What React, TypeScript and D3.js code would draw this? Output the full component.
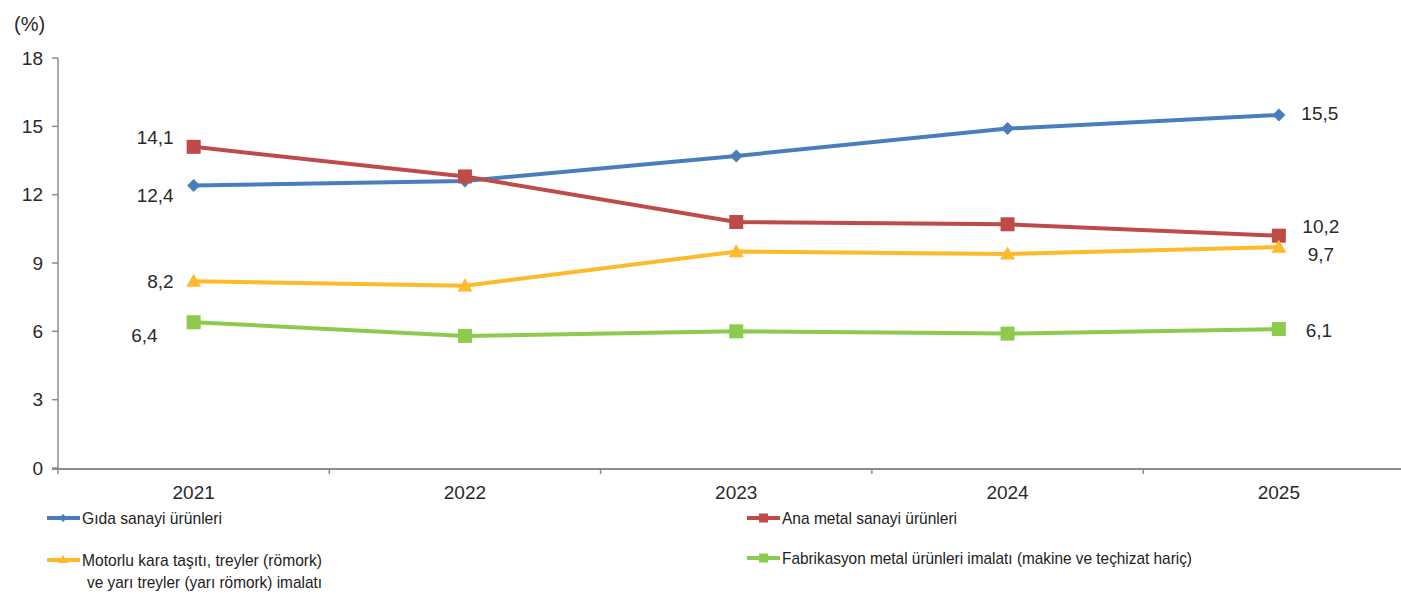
import React from "react";
import * as d3 from "d3";

const years = ["2021", "2022", "2023", "2024", "2025"];
const gida = [12.4, 12.6, 13.7, 14.9, 15.5];
const anaMetal = [14.1, 12.8, 10.8, 10.7, 10.2];
const motorlu = [8.2, 8.0, 9.5, 9.4, 9.7];
const fabrikasyon = [6.4, 5.8, 6.0, 5.9, 6.1];
const yTicks = [0, 3, 6, 9, 12, 15, 18];

const seriesNames = [
  "Gıda sanayi ürünleri",
  "Ana metal sanayi ürünleri",
  "Motorlu kara taşıtı, treyler (römork)|ve yarı treyler (yarı römork) imalatı",
  "Fabrikasyon metal ürünleri imalatı (makine ve teçhizat hariç)",
];

const W = 1401;
const H = 595;
const FONT = "'Liberation Sans', Arial, sans-serif";

type Marker = "diamond" | "square" | "triangle";
const seriesStyle: { color: string; marker: Marker }[] = [
  { color: "#4A7EBB", marker: "diamond" },
  { color: "#BE4B48", marker: "square" },
  { color: "#FDBA2C", marker: "triangle" },
  { color: "#8CCB4C", marker: "square" },
];
const seriesData = [gida, anaMetal, motorlu, fabrikasyon];

// label placement offsets (first and last point)
const firstLabelOffset = [
  { dx: -20, dy: 10 },
  { dx: -20, dy: -9 },
  { dx: -20, dy: 0 },
  { dx: -36, dy: 13 },
];
const lastLabelOffset = [
  { dx: 41, dy: -2 },
  { dx: 42, dy: -9 },
  { dx: 42, dy: 7 },
  { dx: 40, dy: 1 },
];

function MarkerShape({ type, x, y, color }: { type: Marker; x: number; y: number; color: string }) {
  if (type === "square") {
    return <rect x={x - 7} y={y - 7} width={14} height={14} fill={color} />;
  }
  if (type === "diamond") {
    const s = 6.5;
    return <path d={`M${x},${y - s}L${x + s},${y}L${x},${y + s}L${x - s},${y}Z`} fill={color} />;
  }
  const s = 7.5;
  return <path d={`M${x},${y - s}L${x + s},${y + s * 0.75}L${x - s},${y + s * 0.75}Z`} fill={color} />;
}

const fmt = (v: number) => v.toFixed(1).replace(".", ",");

export default function App() {
  const x = d3.scaleBand<string>().domain(years).range([58, 1414.5]);
  const y = d3.scaleLinear().domain([0, 18]).range([468, 58]);
  const cx = (yr: string) => (x(yr) as number) + x.bandwidth() / 2;
  const line = d3
    .line<number>()
    .x((_, i) => cx(years[i]))
    .y((v) => y(v));

  const boundaries = years.map((yr) => x(yr) as number).concat([x.range()[1]]);

  return (
    <svg
      width={W}
      height={H}
      style={{ position: "absolute", left: 0, top: 0, background: "#fff" }}
      fontFamily={FONT}
    >
      <rect width={W} height={H} fill="#fff" />
      <text x={14} y={31} fontSize={20} fill="#2a2a2a">(%)</text>

      {/* y axis */}
      <line x1={58} x2={58} y1={y(18)} y2={y(0)} stroke="#8c8c8c" strokeWidth={1.5} />
      {yTicks.map((t) => (
        <g key={t}>
          <line x1={52} x2={58} y1={y(t)} y2={y(t)} stroke="#8c8c8c" strokeWidth={1.5} />
          <text x={43} y={y(t)} dy="0.35em" textAnchor="end" fontSize={19} fill="#2a2a2a">
            {t}
          </text>
        </g>
      ))}

      {/* x axis */}
      <line x1={52} x2={W} y1={y(0) + 1} y2={y(0) + 1} stroke="#8c8c8c" strokeWidth={2} />
      {boundaries.map((b, i) => (
        <line key={i} x1={b} x2={b} y1={y(0) + 1} y2={y(0) + 6} stroke="#8c8c8c" strokeWidth={1.5} />
      ))}
      {years.map((yr) => (
        <text key={yr} x={cx(yr)} y={499} textAnchor="middle" fontSize={19} fill="#2a2a2a">
          {yr}
        </text>
      ))}

      {/* lines */}
      {seriesData.map((d, si) => (
        <path key={si} d={line(d) || ""} fill="none" stroke={seriesStyle[si].color} strokeWidth={4} />
      ))}
      {seriesData.map((d, si) =>
        d.map((v, i) => (
          <MarkerShape key={`${si}-${i}`} type={seriesStyle[si].marker} x={cx(years[i])} y={y(v)} color={seriesStyle[si].color} />
        ))
      )}

      {/* data labels */}
      {seriesData.map((d, si) => (
        <g key={`lab${si}`} fontSize={19} fill="#2a2a2a">
          <text
            x={cx(years[0]) + firstLabelOffset[si].dx}
            y={y(d[0]) + firstLabelOffset[si].dy}
            dy="0.35em"
            textAnchor="end"
          >
            {fmt(d[0])}
          </text>
          <text
            x={cx(years[4]) + lastLabelOffset[si].dx}
            y={y(d[4]) + lastLabelOffset[si].dy}
            dy="0.35em"
            textAnchor="middle"
          >
            {fmt(d[4])}
          </text>
        </g>
      ))}

      {/* legend */}
      {[
        { si: 0, lx: 47, ly: 518, tw: 140 },
        { si: 1, lx: 747, ly: 518, tw: 175 },
        { si: 2, lx: 47, ly: 560, tw: 240 },
        { si: 3, lx: 747, ly: 558, tw: 410 },
      ].map(({ si, lx, ly, tw }) => {
        const parts = seriesNames[si].split("|");
        const st = seriesStyle[si];
        return (
          <g key={`leg${si}`}>
            <line x1={lx} x2={lx + 33} y1={ly} y2={ly} stroke={st.color} strokeWidth={4} />
            {st.marker === "diamond" ? (
              <path d={`M${lx + 16},${ly - 4}L${lx + 20},${ly}L${lx + 16},${ly + 4}L${lx + 12},${ly}Z`} fill={st.color} />
            ) : st.marker === "triangle" ? (
              <path d={`M${lx + 16},${ly - 5}L${lx + 21},${ly + 3}L${lx + 11},${ly + 3}Z`} fill={st.color} />
            ) : (
              <rect x={lx + 12} y={ly - 4.5} width={9} height={9} fill={st.color} />
            )}
            <text
              x={lx + 35}
              y={ly}
              dy="0.35em"
              fontSize={17}
              fill="#222"
              textLength={tw}
              lengthAdjust="spacingAndGlyphs"
            >
              {parts[0]}
            </text>
            {parts[1] && (
              <text
                x={lx + 40}
                y={ly + 22}
                dy="0.35em"
                fontSize={17}
                fill="#222"
                textLength={235}
                lengthAdjust="spacingAndGlyphs"
              >
                {parts[1]}
              </text>
            )}
          </g>
        );
      })}
    </svg>
  );
}
